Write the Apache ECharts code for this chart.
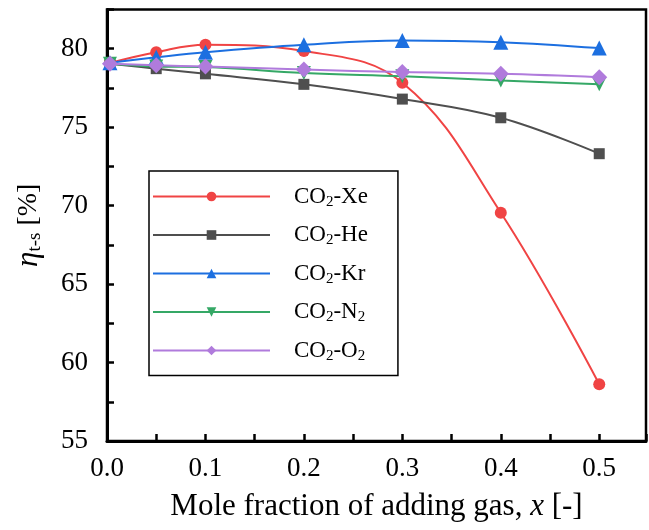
<!DOCTYPE html>
<html>
<head>
<meta charset="utf-8">
<script src="https://cdn.jsdelivr.net/npm/echarts@6/dist/echarts.min.js"></script>
<style>
  html, body { margin: 0; padding: 0; background: #fff; }
  #chart { width: 649px; height: 530px; }
</style>
</head>
<body>
<div id="chart"></div>
<script>
var xValues = [0.003, 0.05, 0.1, 0.2, 0.3, 0.4, 0.5];
var seriesNames = ['Xe', 'He', 'Kr', 'N2', 'O2'];
var xeValues = [79.1, 79.78, 80.25, 79.85, 77.83, 69.55, 58.62];
var heValues = [79.05, 78.73, 78.4, 77.73, 76.79, 75.6, 73.31];
var krValues = [79.1, 79.45, 79.78, 80.25, 80.53, 80.42, 80.04];
var n2Values = [79.05, 78.87, 78.83, 78.45, 78.24, 77.98, 77.73];
var o2Values = [79.05, 78.94, 78.87, 78.68, 78.51, 78.41, 78.19];
var yTicks = [55, 60, 65, 70, 75, 80];
var xTicks = [0.0, 0.1, 0.2, 0.3, 0.4, 0.5];

(function () {
  var font = 'Liberation Serif';
  var chart = echarts.init(document.getElementById('chart'), null, { renderer: 'canvas' });

  function pairs(ys) {
    return xValues.map(function (x, i) { return [x, ys[i]]; });
  }

  var looks = {
    Xe: { color: '#f04444', symbol: 'circle', size: 12, data: xeValues },
    He: { color: '#4f4f4f', symbol: 'rect', size: 11, data: heValues },
    Kr: { color: '#1c6fe0', symbol: 'triangle', size: 15, data: krValues },
    N2: { color: '#35a866', symbol: 'path://M0,0 L10,0 L5,9 Z', size: 14, data: n2Values },
    O2: { color: '#b07bdc', symbol: 'diamond', size: 16, data: o2Values }
  };

  function legendLabel(name) {
    var m = name.match(/^([A-Za-z]+)(\d*)$/);
    var s = '{a|CO}{s|2}{a|-' + m[1] + '}';
    if (m[2]) s += '{s|' + m[2] + '}';
    return s;
  }

  function isTick(list, v) {
    return list.some(function (t) { return Math.abs(t - v) < 1e-6; });
  }

  var series = seriesNames.map(function (n) {
    var l = looks[n];
    return {
      name: n,
      type: 'line',
      smooth: 0.4,
      data: pairs(l.data),
      symbol: l.symbol,
      symbolSize: l.size,
      itemStyle: { color: l.color },
      lineStyle: { color: l.color, width: 2 },
      z: 3
    };
  });

  chart.setOption({
    animation: false,
    backgroundColor: '#fff',
    grid: {
      left: 107, top: 9.5, right: 0, bottom: 89,
      show: true, borderColor: '#000', borderWidth: 2.5
    },
    legend: {
      orient: 'vertical',
      left: 149, top: 171,
      padding: [14, 30, 12, 3],
      itemWidth: 117,
      itemHeight: 12,
      itemGap: 14,
      borderColor: '#000',
      borderWidth: 1.5,
      backgroundColor: '#fff',
      data: seriesNames,
      formatter: legendLabel,
      textStyle: {
        padding: [0, 0, 0, 19],
        rich: {
          a: { fontFamily: font, fontSize: 23, color: '#000', lineHeight: 26 },
          s: { fontFamily: font, fontSize: 15, color: '#000', lineHeight: 14, verticalAlign: 'bottom' }
        }
      }
    },
    xAxis: {
      type: 'value',
      min: 0, max: 0.5475, interval: 0.05,
      name: '{a|Mole fraction of adding gas, }{i|x}{a| [-]}',
      nameLocation: 'middle',
      nameGap: 50,
      nameTextStyle: {
        rich: {
          a: { fontFamily: font, fontSize: 31, color: '#000' },
          i: { fontFamily: font, fontSize: 31, color: '#000', fontStyle: 'italic' }
        }
      },
      axisLine: { onZero: false, lineStyle: { color: '#000', width: 3 } },
      axisTick: { inside: true, length: 7, lineStyle: { color: '#000', width: 2.5 } },
      axisLabel: {
        margin: 14,
        fontFamily: font,
        fontSize: 27,
        color: '#000',
        formatter: function (v) {
          return isTick(xTicks, v) ? v.toFixed(1) : '';
        }
      },
      splitLine: { show: false }
    },
    yAxis: {
      type: 'value',
      min: 55, max: 82.5, interval: 2.5,
      name: '{i|η}{s|t-s}{a| [%]}',
      nameLocation: 'middle',
      nameRotate: 90,
      nameGap: 62,
      nameTextStyle: {
        rich: {
          i: { fontFamily: font, fontSize: 31, color: '#000', fontStyle: 'italic', lineHeight: 32 },
          s: { fontFamily: font, fontSize: 19, color: '#000', lineHeight: 18, verticalAlign: 'bottom' },
          a: { fontFamily: font, fontSize: 28, color: '#000', lineHeight: 32 }
        }
      },
      axisLine: { lineStyle: { color: '#000', width: 3 } },
      axisTick: { inside: true, length: 7, lineStyle: { color: '#000', width: 2.5 } },
      axisLabel: {
        margin: 19,
        fontFamily: font,
        fontSize: 27,
        color: '#000',
        formatter: function (v) { return isTick(yTicks, v) ? String(v) : ''; }
      },
      splitLine: { show: false }
    },
    series: series
  });
})();
</script>
</body>
</html>
